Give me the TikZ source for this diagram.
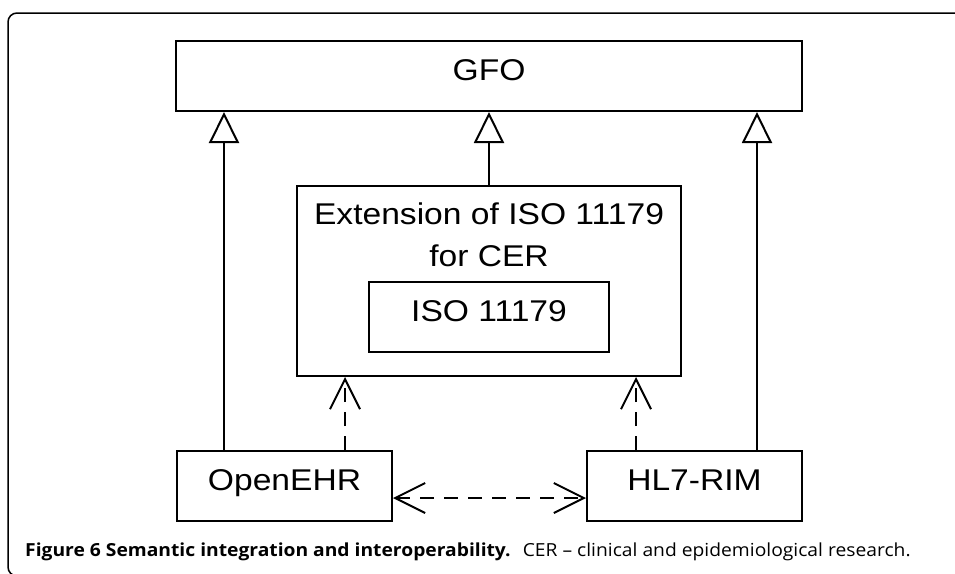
\documentclass[tikz,border=0pt]{standalone}
\usepackage{fontspec}
\setmainfont{Open Sans}
\newfontfamily\capfont[FakeStretch=1.07]{Open Sans}
\newfontfamily\diagfont[FakeStretch=1.12]{Liberation Sans}
\usetikzlibrary{arrows.meta,calc}
\tikzset{
  umlbox/.style={draw=black,line width=2pt,fill=white,inner sep=0pt,
    font=\diagfont\fontsize{30}{42}\selectfont,text height=22pt,text depth=14pt},
  gen/.style={line width=2pt,-{Triangle[open,length=31pt,width=30pt]}},
  dep/.style={line width=2pt,dash pattern=on 14pt off 10pt,-{Straight Barb[length=30pt,width=30pt]}},
  depboth/.style={line width=2pt,dash pattern=on 14pt off 10pt,{Straight Barb[length=30pt,width=30pt]}-{Straight Barb[length=30pt,width=30pt]}}
}
\begin{document}
\begin{tikzpicture}[x=1pt,y=-1pt]
        \useasboundingbox (0,0) rectangle (955,573);
        \draw[line width=1.5pt,rounded corners=9pt] (8,13) rectangle (975,576);
        \node[umlbox,minimum width=626pt,minimum height=70pt] (gfo) at (489,76){GFO};
        \node[umlbox,minimum width=384pt,minimum height=190pt] (ext) at (489,281){};
        \node[anchor=north,inner sep=0pt,align=center,font=\diagfont\fontsize{30}{42}\selectfont] (extlabel) at (489,203){Extension of ISO 11179\\for CER};
        \node[umlbox,minimum width=240pt,minimum height=70pt] (iso) at (489,317){ISO 11179};
        \node[umlbox,minimum width=215pt,minimum height=70pt] (openehr) at (284.5,486){OpenEHR};
        \node[umlbox,minimum width=215pt,minimum height=70pt] (hl7) at (694.5,486){HL7-RIM};
        \coordinate (dl) at ([xshift=49pt]ext.south west);
        \coordinate (dr) at ([xshift=-46pt]ext.south east);
        \coordinate (gl) at ([xshift=48pt]openehr.north west);
        \coordinate (gr) at ([xshift=-46pt]hl7.north east);
        \draw[gen] (gl) -- (gl |- gfo.south);
        \draw[gen] (ext.north) -- (gfo.south);
        \draw[gen] (gr) -- (gr |- gfo.south);
        \draw[dep] (openehr.north -| dl) -- (dl);
        \draw[dep] (hl7.north -| dr) -- (dr);
        \draw[depboth] ([yshift=-12pt]openehr.east) -- ([yshift=-12pt]hl7.west);
        \node[anchor=base west,inner sep=0pt,font=\capfont\fontsize{18}{22}\selectfont] (caption) at (25,556){\textbf{Figure 6 Semantic integration and interoperability.}\hspace{0.3em} CER – clinical and epidemiological research.};
        \end{tikzpicture}
\end{document}
